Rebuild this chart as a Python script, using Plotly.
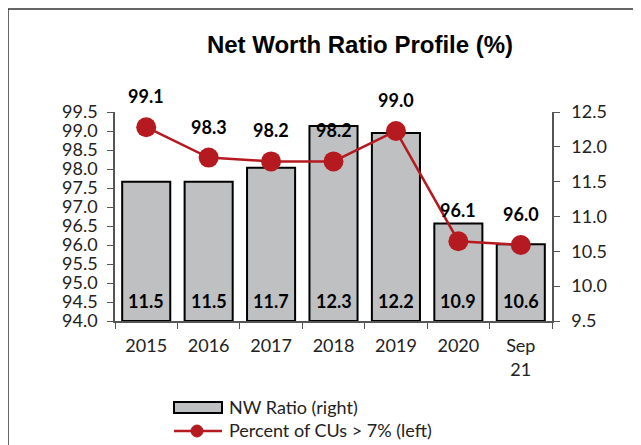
import plotly.graph_objects as go

categories = ["2015", "2016", "2017", "2018", "2019", "2020", "Sep<br>21"]
nw_ratio = [11.5, 11.5, 11.7, 12.3, 12.2, 10.9, 10.6]
pct_cus = [99.1, 98.3, 98.2, 98.2, 99.0, 96.1, 96.0]
left_ticks = [94.0, 94.5, 95.0, 95.5, 96.0, 96.5, 97.0, 97.5, 98.0, 98.5, 99.0, 99.5]
right_ticks = [9.5, 10.0, 10.5, 11.0, 11.5, 12.0, 12.5]
series_names = ["NW Ratio (right)", "Percent of CUs > 7% (left)"]

FONT = "Lato"
RED = "#B51A21"
GREY = "#BFC0C2"
base = right_ticks[0]

# figure geometry (page body adds an 8px offset)
W, H = 633, 437
ML, MR, MT, MB = 107, 89, 104, 124
PW, PH = W - ML - MR, H - MT - MB
OFF = 8


def px(sx):  # screen x -> paper x
    return (sx - OFF - ML) / PW


def py(sy):  # screen y -> paper y
    return (H - MB - (sy - OFF)) / PH


fig = go.Figure()
fig.add_trace(go.Bar(
    x=categories, y=[v - base for v in nw_ratio], base=base, name=series_names[0],
    marker=dict(color=GREY, line=dict(color="black", width=2)),
    yaxis="y", width=0.77, hovertext=[f"{v:.1f}" for v in nw_ratio],
    hoverinfo="text+x", showlegend=False,
))
fig.add_trace(go.Scatter(
    x=categories, y=pct_cus, name=series_names[1],
    mode="lines+markers",
    line=dict(color=RED, width=2.5),
    marker=dict(color=RED, size=20),
    yaxis="y2", cliponaxis=False, showlegend=False,
))

annotations = []
for i, v in enumerate(nw_ratio):
    annotations.append(dict(x=i, y=base, xref="x", yref="y", text=f"<b>{v:.1f}</b>",
                            showarrow=False, yanchor="bottom", yshift=7,
                            font=dict(family=FONT, size=18, color="black")))
for i, v in enumerate(pct_cus):
    annotations.append(dict(x=i, y=v, xref="x", yref="y2", text=f"<b>{v:.1f}</b>",
                            showarrow=False, yanchor="bottom", yshift=18,
                            font=dict(family=FONT, size=18, color="black")))
# legend texts
annotations.append(dict(x=px(227), y=py(407), xref="paper", yref="paper",
                        text=series_names[0], showarrow=False, xanchor="left",
                        yanchor="middle", font=dict(family=FONT, size=18, color="#222")))
annotations.append(dict(x=px(227), y=py(430), xref="paper", yref="paper",
                        text=series_names[1], showarrow=False, xanchor="left",
                        yanchor="middle", font=dict(family=FONT, size=18, color="#222")))

shapes = [
    dict(type="rect", xref="paper", yref="paper",
         x0=px(8), x1=1.3, y0=-0.8, y1=py(9),
         line=dict(color="#333", width=1.5), layer="below"),
    dict(type="rect", xref="paper", yref="paper",
         x0=px(174), x1=px(222), y0=py(413), y1=py(402),
         fillcolor=GREY, line=dict(color="black", width=2)),
    dict(type="line", xref="paper", yref="paper",
         x0=px(174), x1=px(222), y0=py(431), y1=py(431),
         line=dict(color=RED, width=2.5)),
    dict(type="circle", xref="paper", yref="paper",
         xsizemode="pixel", ysizemode="pixel",
         xanchor=px(197), yanchor=py(431), x0=-6, x1=6, y0=-6, y1=6,
         fillcolor=RED, line=dict(color=RED, width=1)),
]

axis_common = dict(showline=True, linecolor="#555", linewidth=1.5, ticks="outside",
                   ticklen=6, tickcolor="#555", showgrid=False, zeroline=False,
                   automargin=False)

fig.update_layout(
    width=W, height=H,
    margin=dict(l=ML, r=MR, t=MT, b=MB),
    paper_bgcolor="white", plot_bgcolor="white",
    font=dict(family=FONT, size=18, color="#222"),
    showlegend=False,
    title=dict(text="<b>Net Worth Ratio Profile (%)</b>", x=(360 - OFF) / W, xanchor="center",
               y=1 - (45 - OFF) / H, yanchor="middle",
               font=dict(family="Liberation Sans", size=24, color="black")),
    bargap=0.23,
    xaxis=dict(type="category", categoryorder="array", categoryarray=categories,
               range=[-0.5, len(categories) - 0.5],
               tickson="boundaries", ticklabelstandoff=8,
               tickfont=dict(family=FONT, size=18, color="#222"), **axis_common),
    yaxis=dict(side="right", range=[9.5, 12.5], tickvals=right_ticks,
               ticktext=[f"{v:.1f}" for v in right_ticks], ticklabelstandoff=8,
               tickfont=dict(family=FONT, size=18, color="#222"), **axis_common),
    yaxis2=dict(side="left", overlaying="y", range=[94.0, 99.5], tickvals=left_ticks,
                ticktext=[f"{v:.1f}" for v in left_ticks], ticklabelstandoff=6,
                tickfont=dict(family=FONT, size=18, color="#222"), **axis_common),
    annotations=annotations,
    shapes=shapes,
)

fig.write_html("out.html")
